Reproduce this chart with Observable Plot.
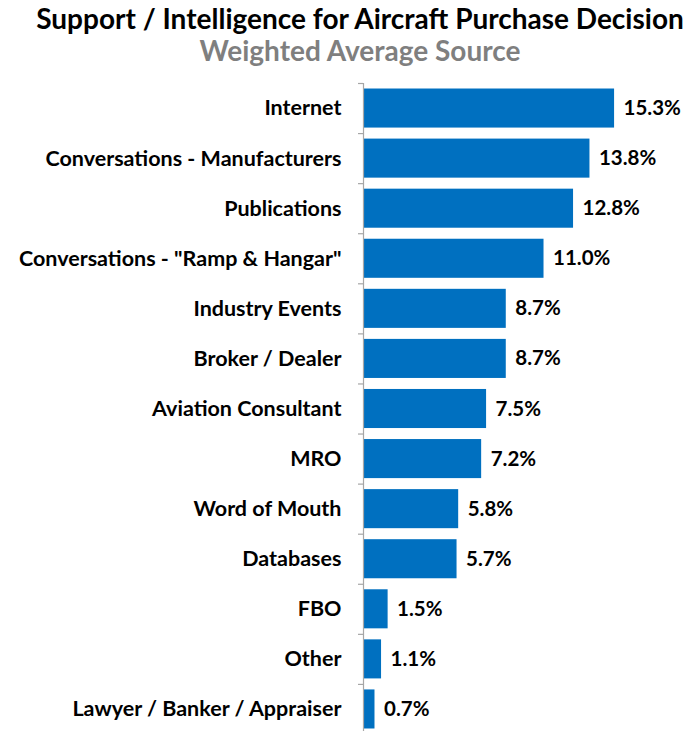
<!DOCTYPE html>
<html>
<head>
<meta charset="utf-8">
<script src="https://cdn.jsdelivr.net/npm/d3@7"></script>
<script src="https://cdn.jsdelivr.net/npm/@observablehq/plot@0.6"></script>
<style>
  html, body { margin: 0; padding: 0; background: #fff; }
  body { width: 688px; height: 731px; overflow: hidden; position: relative; font-family: Lato, "Open Sans", sans-serif; }
  .title { position: absolute; left: 32px; width: 656px; text-align: center; font-weight: 700; white-space: nowrap; line-height: 1.2; }
  #t1 { top: 2px; font-size: 28px; color: #000; }
  #t2 { top: 34px; font-size: 28px; color: #7f7f7f; }
  #chart { position: absolute; left: 0; top: 72px; line-height: 0; }
</style>
</head>
<body>
<div class="title" id="t1">Support / Intelligence for Aircraft Purchase Decision</div>
<div class="title" id="t2">Weighted Average Source</div>
<div id="chart"></div>
<script>
const categories = [
  "Internet",
  "Conversations - Manufacturers",
  "Publications",
  "Conversations - \"Ramp & Hangar\"",
  "Industry Events",
  "Broker / Dealer",
  "Aviation Consultant",
  "MRO",
  "Word of Mouth",
  "Databases",
  "FBO",
  "Other",
  "Lawyer / Banker / Appraiser"
];
const values = [15.3, 13.8, 12.8, 11.0, 8.7, 8.7, 7.5, 7.2, 5.8, 5.7, 1.5, 1.1, 0.7];

const data = categories.map((c, i) => ({category: c, value: values[i]}));

const height = 662, marginTop = 11, marginBottom = 0;
const step = (height - marginTop - marginBottom) / categories.length;

const plot = Plot.plot({
  width: 688,
  height,
  marginTop,
  marginBottom,
  marginLeft: 363,
  marginRight: 5,
  style: {fontFamily: "Lato, 'Open Sans', sans-serif", background: "#fff"},
  x: {domain: [0, 19.5], axis: null},
  y: {domain: categories, paddingInner: 0.22, paddingOuter: 0.11, round: false, label: null},
  marks: [
    Plot.barX(data, {x: "value", y: "category", fill: "#0070c0"}),
    Plot.text(data, {
      x: "value", y: "category",
      text: d => d.value.toFixed(1) + "%",
      textAnchor: "start", dx: 9,
      fontSize: 20.5, fontWeight: 700, fill: "#000"
    }),
    Plot.ruleX([0], {stroke: "#a6a6a6", strokeWidth: 1.2}),
    Plot.ruleY(categories, {
      y: d => d, x1: 0, x2: 0, insetLeft: -5,
      dy: -step / 2, stroke: "#a6a6a6", strokeWidth: 1.2
    }),
    Plot.axisY({
      tickSize: 0, tickPadding: 22,
      fontSize: 21.5, fontWeight: 700, fill: "#000",
      label: null
    })
  ]
});
document.getElementById("chart").appendChild(plot);
</script>
</body>
</html>
